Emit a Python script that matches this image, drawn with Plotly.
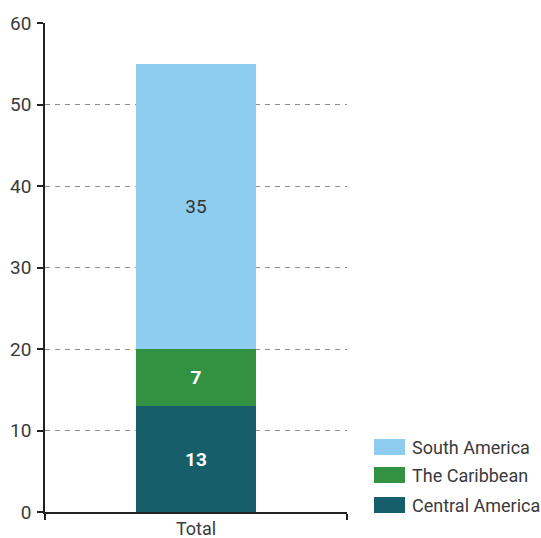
import plotly.graph_objects as go

categories = ["Total"]
series_names = ["Central America", "The Caribbean", "South America"]
central_america = [13]
caribbean = [7]
south_america = [35]
y_ticks = [0, 10, 20, 30, 40, 50, 60]

colors = ["#155E6A", "#339142", "#8ECDF0"]
text_colors = ["white", "white", "#333333"]
text_weights = ["bold", "bold", "normal"]
FONT = "Roboto, sans-serif"
FS = 19
LFS = 18
TXT = "#3a3a3a"

fig = go.Figure()
for name, vals, c, tc, tw in zip(series_names, [central_america, caribbean, south_america],
                                 colors, text_colors, text_weights):
    fig.add_trace(go.Bar(
        x=categories, y=vals, name=name, marker=dict(color=c, line=dict(width=0)),
        text=[str(v) for v in vals], textposition="inside", insidetextanchor="middle",
        textfont=dict(color=tc, size=FS, family=FONT, weight=tw),
        showlegend=False, width=0.4,
    ))

# custom legend (top to bottom: South America, The Caribbean, Central America)
L, R, T, B = 45, 347, 23, 512
def px_x(p): return (p - L) / (R - L)
def px_y(p): return (B - p) / (B - T)
legend_rows = [(series_names[2], colors[2], 447), (series_names[1], colors[1], 475), (series_names[0], colors[0], 505)]
for name, c, cy in legend_rows:
    fig.add_shape(type="rect", xref="paper", yref="paper",
                  x0=px_x(374), x1=px_x(405), y0=px_y(cy - 8), y1=px_y(cy + 8),
                  fillcolor=c, line=dict(width=0))
    fig.add_annotation(xref="paper", yref="paper", x=px_x(410), y=px_y(cy),
                       text=name, showarrow=False, xanchor="left", yanchor="middle",
                       font=dict(size=LFS, color=TXT, family=FONT))

fig.update_layout(
    barmode="stack",
    width=541, height=538,
    margin=dict(l=L, r=541 - R, t=T, b=538 - B, autoexpand=False),
    paper_bgcolor="white", plot_bgcolor="white",
    font=dict(family=FONT, size=FS, color=TXT),
)
fig.update_yaxes(
    range=[0, 60], tickvals=y_ticks, showgrid=True, gridcolor="#8f8f8f", griddash="5px,5px",
    gridwidth=1, showline=True, linecolor="#222222", linewidth=1.5,
    ticks="outside", ticklen=6, tickcolor="#222222", tickwidth=1.5, zeroline=False,
    tickfont=dict(size=FS, color=TXT), ticklabelstandoff=2, automargin=False,
)
fig.update_xaxes(
    showline=True, linecolor="#222222", linewidth=1.5, ticks="outside", tickson="boundaries",
    ticklen=6, tickcolor="#222222", tickwidth=1.5, showgrid=False,
    tickfont=dict(size=18, color=TXT), ticklabelstandoff=0, automargin=False,
)
fig.write_html("out.html", config={"displayModeBar": False},
               post_script="document.body.style.margin='0';document.body.style.overflow='hidden';")
